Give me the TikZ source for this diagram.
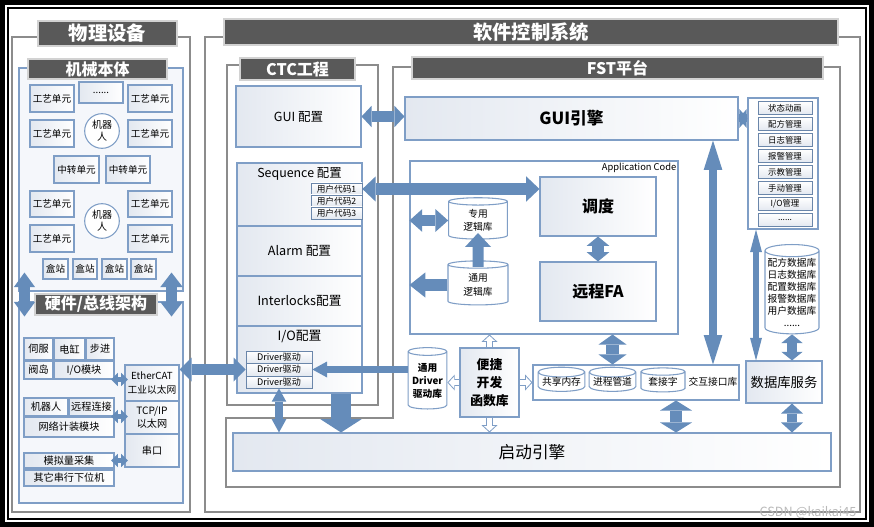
\documentclass[tikz,border=0pt]{standalone}
\usepackage{fontspec}
\setmainfont{Noto Sans CJK SC}
\usetikzlibrary{arrows.meta,shapes.geometric,fit}

\definecolor{barfill}{HTML}{595959}
\definecolor{framegray}{HTML}{8C8C8C}
\definecolor{bordblue}{HTML}{7F9EC6}
\definecolor{itemblue}{HTML}{6A86AA}
\definecolor{arrblue}{HTML}{658CBA}
\definecolor{panelfill}{HTML}{F5F7FB}
\definecolor{shadeblue}{HTML}{E3E8F0}

\tikzset{
  fs/.style 2 args={font=\fontsize{#1}{#2}\selectfont},
  fsb/.style 2 args={font=\fontsize{#1}{#2}\selectfont\bfseries},
  grayframe/.style={draw=framegray, line width=2.2pt},
  titlebar/.style={draw=gray!35, line width=0.8pt, fill=barfill, inner sep=0pt},
  panel/.style={draw=bordblue, line width=0.8pt, fill=panelfill, inner sep=0pt},
  blk/.style={draw=bordblue, line width=0.8pt, left color=shadeblue, right color=white, inner sep=0pt},
  wbox/.style={draw=bordblue, line width=0.8pt, fill=white, inner sep=0pt},
  mitem/.style={draw=itemblue, line width=0.6pt, top color=white, bottom color=shadeblue, inner sep=0pt},
  robot/.style={circle, draw=bordblue, line width=0.8pt, fill=white, minimum size=26pt, inner sep=0pt, align=center, fs={7.5}{9}},
  cyl/.style={cylinder, shape border rotate=90, aspect=0.25, draw=bordblue, line width=0.8pt, fill=white, inner sep=0pt, align=center},
  ut/.style={label={[fs={7.2}{9}]center:#1}},
  ht/.style={label={[fs={7.6}{9}]center:#1}},
  bt/.style={label={[fsb={12}{14}, text=white]center:#1}},
  dbl/.style n args={3}{draw=arrblue, line width=#1, {Triangle[length=#3,width=#2,line width=0pt]}-{Triangle[length=#3,width=#2,line width=0pt]}},
  sgl/.style n args={3}{draw=arrblue, line width=#1, -{Triangle[length=#3,width=#2,line width=0pt]}},
  holo/.style={draw=bordblue, line width=5pt, {Triangle[length=5.5pt,width=12pt,line width=0pt]}-{Triangle[length=5.5pt,width=12pt,line width=0pt]}},
  holi/.style={draw=white, line width=3.6pt, shorten <=1pt, shorten >=1pt, {Triangle[length=3.8pt,width=8.3pt,line width=0pt]}-{Triangle[length=3.8pt,width=8.3pt,line width=0pt]}},
}

\begin{document}
\begin{tikzpicture}[x=0.75pt,y=-0.75pt]
\useasboundingbox (0,0) rectangle (874,527);

% outer border
\draw[line width=3.75pt] (2.5,2.5) rectangle (871.5,524.5);
\draw[line width=1.5pt] (8,8) rectangle (866,519);

% physical devices
\draw[grayframe] (12,37) rectangle (190,512);
\node[titlebar, fit={(38,21) (177,46)}, label={[fsb={14.5}{16}, text=white]center:物理设备}] (wlsb) {};

\node[panel, fit={(19,68) (183,291)}] (jxbt) {};
\node[titlebar, fit={(28,59) (167,79)}, bt=机械本体] (jxbtT) {};
\node[blk, fit={(30,85) (74,112)}, ut=工艺单元] (gy1) {};
\node[blk, fit={(79,82) (123,103)}, ut=......] (more) {};
\node[blk, fit={(128,85) (172,112)}, ut=工艺单元] (gy2) {};
\node[blk, fit={(30,120) (74,147)}, ut=工艺单元] (gy3) {};
\node[blk, fit={(128,120) (172,147)}, ut=工艺单元] (gy4) {};
\node[robot] (rb1) at (102,131) {机器\\人};
\node[blk, fit={(54,156) (99,183)}, ut=中转单元] (zz1) {};
\node[blk, fit={(106,156) (150,183)}, ut=中转单元] (zz2) {};
\node[blk, fit={(30,191) (74,217)}, ut=工艺单元] (gy5) {};
\node[blk, fit={(128,191) (172,217)}, ut=工艺单元] (gy6) {};
\node[robot] (rb2) at (102,221) {机器\\人};
\node[blk, fit={(30,225) (74,252)}, ut=工艺单元] (gy7) {};
\node[blk, fit={(128,225) (172,252)}, ut=工艺单元] (gy8) {};
\node[blk, fit={(43,259) (68,279)}, ut=盒站] (hz1) {};
\node[blk, fit={(73,259) (97,279)}, ut=盒站] (hz2) {};
\node[blk, fit={(102,259) (127,279)}, ut=盒站] (hz3) {};
\node[blk, fit={(131,259) (156,279)}, ut=盒站] (hz4) {};

\node[panel, fit={(19,302) (183,503)}] (yjzx) {};
\node[titlebar, fit={(35,294) (157,315)}, bt=硬件/总线架构] (yjzxT) {};
\node[blk, fit={(24,338) (53,360)}, ht=伺服] (sf) {};
\node[blk, fit={(54,338) (85,360)}, ht=电缸] (dg) {};
\node[blk, fit={(86,338) (114,360)}, ht=步进] (bj) {};
\node[blk, fit={(24,361) (53,379)}, ht=阀岛] (fd) {};
\node[blk, fit={(54,361) (114,379)}, ht=I/O模块] (iomod) {};
\node[blk, fit={(125,365) (179,401)}, label={[fs={7.3}{10}, align=center]center:EtherCAT\\工业以太网}] (ecat) {};
\node[blk, fit={(125,401) (179,434)}, label={[fs={7.6}{10}, align=center]center:TCP/IP\\以太网}] (tcp) {};
\node[blk, fit={(125,434) (179,467)}, ht=串口] (ck) {};
\node[blk, fit={(24,398) (68,416)}, ht=机器人] (jqr) {};
\node[blk, fit={(69,398) (114,416)}, ht=远程连接] (ycl) {};
\node[blk, fit={(24,417) (114,437)}, ht=网络计装模块] (wljz) {};
\node[blk, fit={(24,453) (114,468)}, ht=模拟量采集] (mnl) {};
\node[blk, fit={(24,470) (114,486)}, ht=其它串行下位机] (qt) {};

% software control system
\draw[grayframe] (205,37) rectangle (860,512);
\node[titlebar, fit={(224,19) (838,45)}, label={[fsb={14.5}{16}, text=white]center:软件控制系统}] (rjkz) {};

% CTC
\draw[grayframe] (227,65) rectangle (378,405);
\node[titlebar, fit={(240,58) (355,80)}, bt=CTC工程] (ctcT) {};
\node[blk, fit={(236,86) (361,147)}, label={[fs={9.4}{11}]center:GUI 配置}] (guicfg) {};
\node[blk, fit={(237,163) (362,226)}] (seq) {};
\node[fs={9.3}{11}] (seqtxt) at (299.5,174) {Sequence 配置};
\node[mitem, fit={(311,183) (362,195)}, label={[fs={6.5}{7}]center:用户代码1}] (uc1) {};
\node[mitem, fit={(311,195) (362,207)}, label={[fs={6.5}{7}]center:用户代码2}] (uc2) {};
\node[mitem, fit={(311,207) (362,219)}, label={[fs={6.5}{7}]center:用户代码3}] (uc3) {};
\node[blk, fit={(237,226) (362,276)}, label={[fs={9.5}{11}]center:Alarm 配置}] (alarm) {};
\node[blk, fit={(237,276) (362,326)}, label={[fs={9.5}{11}]center:Interlocks配置}] (intl) {};
\node[blk, fit={(237,326) (362,393)}] (ioc) {};
\node[fs={9.6}{11}] (iotxt) at (299.5,337) {I/O配置};
\node[mitem, fit={(246,351) (312,363)}, label={[fs={6.8}{7}]center:Driver驱动}] (dr1) {};
\node[mitem, fit={(246,363) (312,376)}, label={[fs={6.8}{7}]center:Driver驱动}] (dr2) {};
\node[mitem, fit={(246,376) (312,388)}, label={[fs={6.8}{7}]center:Driver驱动}] (dr3) {};

% FST
\draw[grayframe] (393,67) -- (840,67) -- (840,487) -- (226,487) -- (226,418) -- (393,418) -- cycle;
\node[titlebar, fit={(412,57) (823,79)}, bt=FST平台] (fstT) {};
\node[blk, fit={(405,97) (738,140)}, label={[fsb={12.5}{14}]center:GUI引擎}] (guieng) {};

\node[wbox, fit={(748,98) (818,229)}] (lst) {};
\foreach \txt [count=\i] in {状态动画,配方管理,日志管理,报警管理,示教管理,手动管理,I/O管理}
  \node[mitem, minimum width=40.5pt, minimum height=9.8pt, fs={6.3}{7}] (li\i) at (785,92+16*\i) {\txt};
\node[mitem, minimum width=40.5pt, minimum height=9.8pt, fs={6.3}{7}] (li8) at (785,220) {......};

\node[wbox, fit={(410,161) (678,334)}] (app) {};
\node[anchor=north east, fs={7}{8}, inner sep=1.5pt] (apptxt) at (app.north east) {Application Code};
\node[blk, fit={(540,177) (656,236)}, label={[fsb={12}{14}]center:调度}] (dd) {};
\node[blk, fit={(540,262) (656,321)}, label={[fsb={12}{14}]center:远程FA}] (fa) {};
\node[cyl, minimum width=44pt, minimum height=31pt, fs={7.3}{10}] (zy) at (478,220.5) {专用\\逻辑库};
\node[cyl, minimum width=45pt, minimum height=33pt, fs={7.3}{10}] (ty) at (478,285) {通用\\逻辑库};
\coordinate (upA) at (478,267);
\coordinate (upB) at (478,233);

\node[blk, fit={(233,433) (831,471)}, label={[fs={12.5}{14}]center:启动引擎}] (qd) {};

\node[cyl, minimum width=29pt, minimum height=46pt, fsb={7.3}{9.7}] (dlib) at (427.5,380.5) {通用\\Driver\\驱动库};
\node[wbox, fit={(533,365) (739,400)}] (jh) {};
\node[cyl, minimum width=35pt, minimum height=18pt, fs={7.3}{8}] (s1) at (561.5,382) {共享内存};
\node[cyl, minimum width=35pt, minimum height=18pt, fs={7.3}{8}] (s2) at (612.5,382) {进程管道};
\node[cyl, minimum width=33pt, minimum height=18pt, fs={7.3}{8}] (s3) at (663,382) {套接字};
\node[fs={7.3}{8}] (jhtxt) at (713,382) {交互接口库};

\node[cyl, minimum width=40.5pt, minimum height=67pt, fs={7.3}{9}] (db) at (792,292.5) {配方数据库\\日志数据库\\配置数据库\\报警数据库\\用户数据库\\......};
\node[blk, fit={(746,361) (822,403)}, label={[fs={10}{12}]center:数据库服务}] (dbs) {};

% hollow arrows round the library box
\coordinate (kitc) at (489.5,382.5);
\draw[holo] (kitc |- app.south) -- (kitc |- qd.north);
\draw[holi] (kitc |- app.south) -- (kitc |- qd.north);
\draw[holo] (dlib.east |- kitc) -- (jh.west |- kitc);
\draw[holi] (dlib.east |- kitc) -- (jh.west |- kitc);
\node[blk, fit={(460,348) (519,417)}, label={[fsb={9.6}{13.5}, align=center]center:便捷\\开发\\函数库}] (kit) {};

% arrows
\draw[dbl={8.5pt}{16pt}{11pt}] ([shift={(6,-19)}]jxbt.south west) -- ++(0,44);
\draw[dbl={8.5pt}{17pt}{11pt}] ([shift={(-12,-19)}]jxbt.south east) -- ++(0,44);
\draw[dbl={4pt}{10pt}{5pt}, shorten <=-2.5pt, shorten >=-2.5pt] (iomod.south east) -- (iomod.south east -| ecat.west);
\draw[dbl={4pt}{10pt}{5pt}, shorten <=-2.5pt, shorten >=-2.5pt] (wljz.north east) -- (wljz.north east -| tcp.west);
\draw[dbl={4pt}{10pt}{5pt}, shorten <=-2.5pt, shorten >=-2.5pt] (mnl.east) -- (mnl.east -| ck.west);
\draw[dbl={8pt}{18pt}{9pt}] (ecat.east |- dr2.west) -- (dr2.west);
\draw[sgl={5.5pt}{12pt}{11pt}] (dr2.east -| dlib.west) -- (dr2.east);
\draw[dbl={6pt}{11pt}{10pt}] (dr3.south) -- (dr3.south |- qd.north);
\draw[sgl={15.5pt}{31pt}{10pt}] ([shift={(41.5,0)}]ioc.south) -- ([shift={(41.5,0)}]ioc.south |- qd.north);
\draw[dbl={8.5pt}{16pt}{7.5pt}] (guicfg.east) -- (guicfg.east -| guieng.west);
\draw[dbl={9pt}{19pt}{10pt}] (uc1.east) -- (uc1.east -| dd.west);
\draw[dbl={9pt}{17pt}{7pt}] (dd.south) -- (fa.north);
\draw[dbl={8.5pt}{17pt}{9.5pt}] (app.west |- zy.west) -- (zy.west);
\draw[sgl={9.5pt}{19pt}{12pt}] (ty.west) -- (ty.west -| app.west);
\draw[dbl={10pt}{21pt}{7.5pt}] (s2.north |- app.south) -- (s2.north |- jh.north);
\draw[dbl={9.5pt}{24pt}{7.5pt}] (jh.south -| 676,0) -- (676,0 |- qd.north);
\draw[dbl={6pt}{14pt}{22pt}] (jhtxt |- guieng.south) -- (jhtxt |- jh.north);
\draw[dbl={6pt}{14pt}{6pt}] (guieng.east) -- (guieng.east -| lst.west);
\draw[dbl={4pt}{9pt}{17pt}] (lst.south -| 756,0) -- (756,0 |- dbs.north);
\draw[dbl={8pt}{16pt}{6.5pt}] (db.south) -- (db.south |- dbs.north);
\draw[dbl={7.5pt}{16.5pt}{7.5pt}] (db.south |- dbs.south) -- (db.south |- qd.north);
% general -> special logic library
\fill[arrblue] ([shift={(-5.5,0)}]upA) -- ([shift={(-5.5,14)}]upB) -- ([shift={(-13,14)}]upB) -- (upB)
  -- ([shift={(13,14)}]upB) -- ([shift={(5.5,14)}]upB) -- ([shift={(5.5,0)}]upA) -- cycle;

\node[fs={9.5}{11}, text=gray!55] (wm) at (808,513) {CSDN @kaikai45};
\end{tikzpicture}
\end{document}
